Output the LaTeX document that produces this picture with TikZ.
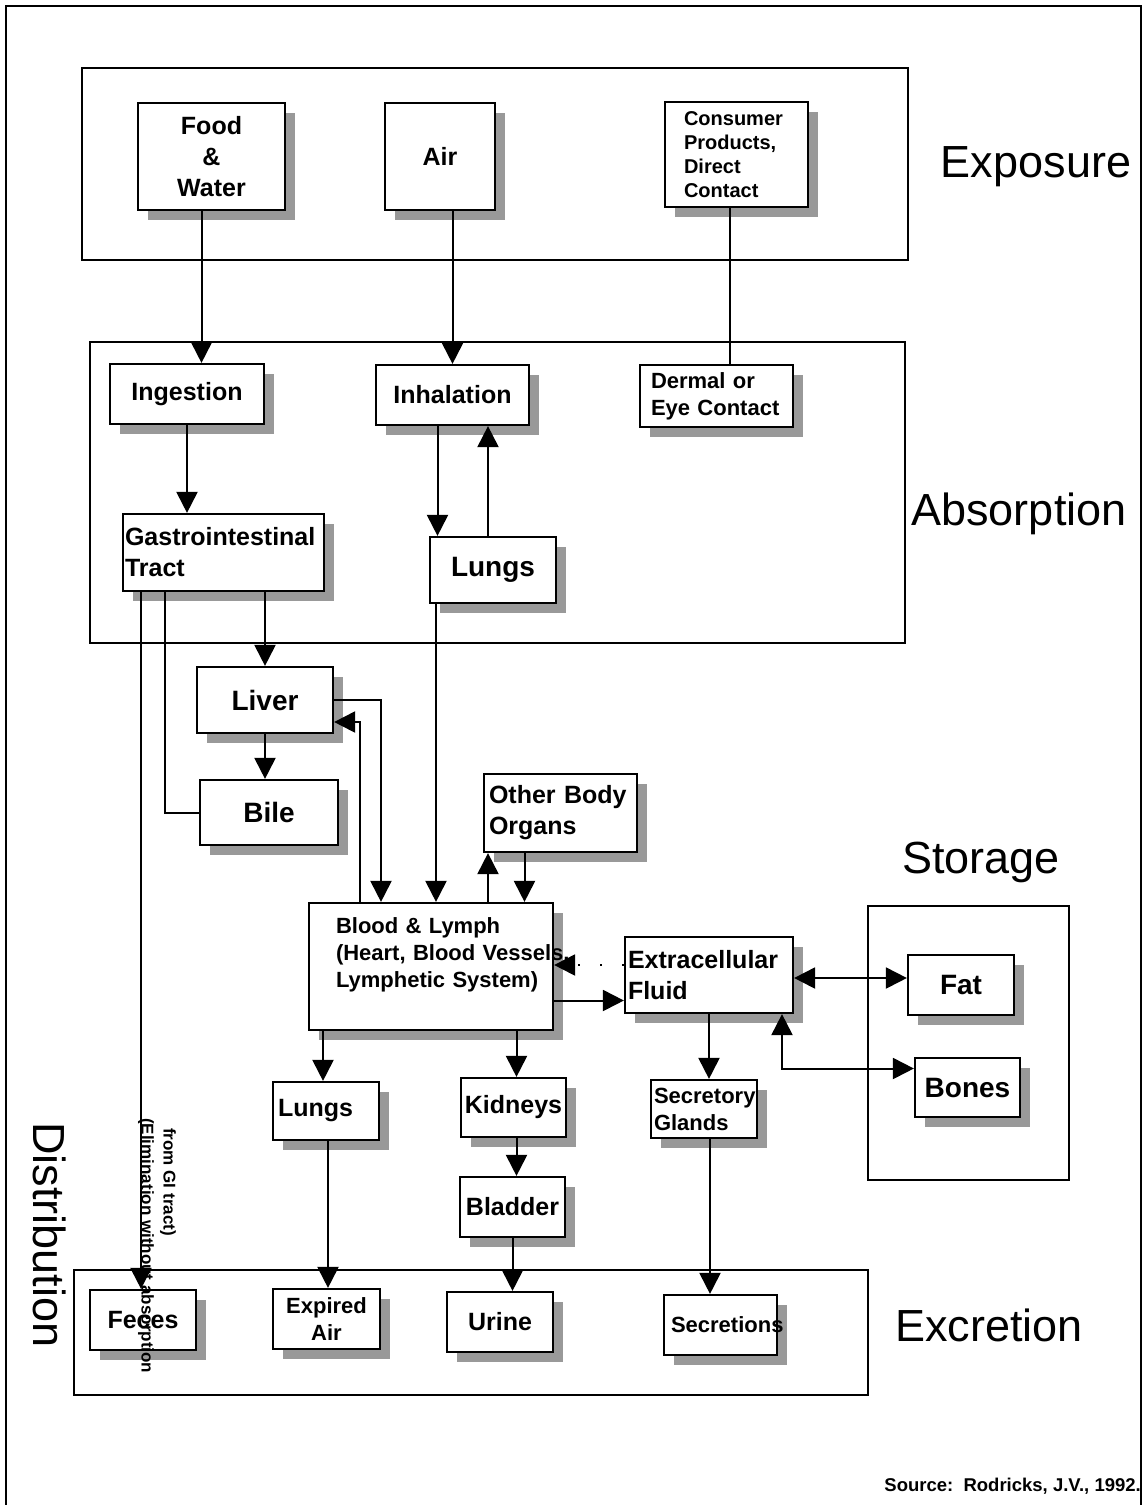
\documentclass[tikz,border=0pt]{standalone}
\usepackage{fontspec}
\setmainfont{Liberation Sans}
\usepackage{tikz}
\usetikzlibrary{arrows.meta,shadows}
\newcommand{\ovr}[1]{\leavevmode\rlap{#1}}
\tikzset{
  box/.style  ={draw, line width=2.2pt, fill=white, inner sep=0pt, align=center,
                general shadow={fill=black!40, shadow xshift=10pt, shadow yshift=-10pt}},
  frm/.style  ={draw, line width=2.2pt},
  con/.style  ={line width=2pt},
  arr/.style  ={-{Triangle[length=21pt, width=21pt]}, line width=2pt},
  dbl/.style  ={{Triangle[length=21pt, width=21pt]}-{Triangle[length=21pt, width=21pt]},
                line width=2pt},
  txtA/.style ={font=\bfseries\fontsize{25}{31}\selectfont},
  txtB/.style ={font=\bfseries\fontsize{22}{27}\selectfont},
  txtS/.style ={font=\bfseries\fontsize{20}{24}\selectfont},
  txtL/.style ={font=\bfseries\fontsize{28}{33}\selectfont},
  ttl/.style  ={inner sep=0pt, font=\fontsize{45}{54}\selectfont},
  note/.style ={inner sep=0pt, font=\bfseries\fontsize{17}{20}\selectfont},
  src/.style  ={inner sep=0pt, font=\bfseries\fontsize{18.5}{22}\selectfont},
}

\begin{document}
\begin{tikzpicture}[x=1pt, y=-1pt]
  \useasboundingbox (0,0) rectangle (1144,1505);
  % page frame and stage frames
  \draw[frm] (6,1505) -- (6,6) -- (1141,6) -- (1141,1505);
  \draw[frm] (82,68) rectangle (908,260);
  \draw[frm] (90,342) rectangle (905,643);
  \draw[frm] (868,906) rectangle (1069,1180);
  \draw[frm] (74,1270) rectangle (868,1395);

  % stage titles
  \node[ttl] (exposure) at (1036,167) {Exposure};
  \node[ttl] (absorption) at (1019,514) {Absorption};
  \node[ttl] (storage) at (981,862) {Storage};
  \node[ttl] (excretion) at (989,1325) {Excretion};
  \node[ttl, rotate=-90] (distribution) at (50,1235) {Distribution};
  \node[src, anchor=east] (source) at (1141,1486) {Source:\ \ Rodricks, J.V., 1992.};

  % exposure
  \node[box, minimum width=147pt, minimum height=107pt, txtA] (food) at (211.5,156.5)
    {Food\\\&\\Water};
  \node[box, minimum width=110pt, minimum height=107pt, txtA] (air) at (440,156.5) {Air};
  \node[box, minimum width=143pt, minimum height=105pt, txtS, align=left,
        inner xsep=19pt, text width=105pt] (consumer) at (736.5,154.5)
    {Consumer\\Products,\\Direct\\Contact};

  % absorption
  \node[box, minimum width=154pt, minimum height=60pt, txtA] (ingest) at (187,394) {Ingestion};
  \node[box, minimum width=153pt, minimum height=60pt, txtA] (inhal) at (452.5,395) {Inhalation};
  \node[box, minimum width=153pt, minimum height=62pt, txtB, align=left,
        inner xsep=11pt, text width=131pt] (dermal) at (716.5,396) {Dermal or\\Eye Contact};
  \node[box, minimum width=201pt, minimum height=77pt, txtA, align=left,
        inner xsep=2pt, text width=197pt] (gi) at (223.5,552.5) {Gastrointestinal\\Tract};
  \node[box, minimum width=126pt, minimum height=66pt, txtL] (lungsA) at (493,570) {Lungs};

  % distribution
  \node[box, minimum width=136pt, minimum height=66pt, txtL] (liver) at (265,700) {Liver};
  \node[box, minimum width=138pt, minimum height=65pt, txtL] (bile) at (269,812.5) {Bile};
  \node[box, minimum width=153pt, minimum height=78pt, txtA, align=left,
        inner xsep=5pt, text width=143pt] (other) at (560.5,813) {Other Body\\Organs};
  \node[box, minimum width=244pt, minimum height=127pt, txtB, align=left,
        inner xsep=27pt, text width=190pt] (blood) at (431,966.5)
    {Blood \& Lymph\\\ovr{(Heart, Blood Vessels,}\\\ovr{Lymphetic System)}\\\mbox{}};
  \node[box, minimum width=168pt, minimum height=76pt, txtA, align=left,
        inner xsep=3pt, text width=162pt] (extra) at (709,975) {Extracellular\\Fluid};
  \node[box, minimum width=106pt, minimum height=60pt, txtL] (fat) at (961,985) {Fat};
  \node[box, minimum width=105pt, minimum height=59pt, txtL] (bones) at (967.5,1087.5) {Bones};
  \node[box, minimum width=106pt, minimum height=58pt, txtA, align=left,
        inner xsep=5pt, text width=96pt] (lungsB) at (326,1111) {Lungs};
  \node[box, minimum width=105pt, minimum height=59pt, txtA] (kidneys) at (513.5,1107.5) {Kidneys};
  \node[box, minimum width=106pt, minimum height=58pt, txtB, align=left,
        inner xsep=3pt, text width=100pt] (secret) at (704,1109) {\ovr{Secretory}\\Glands};
  \node[box, minimum width=105pt, minimum height=60pt, txtA] (bladder) at (512.5,1207) {Bladder};

  % excretion
  \node[box, minimum width=106pt, minimum height=60pt, txtA] (feces) at (143,1320) {Feces};
  \node[box, minimum width=107pt, minimum height=60pt, txtB] (expired) at (326.5,1319) {Expired\\Air};
  \node[box, minimum width=106pt, minimum height=60pt, txtA] (urine) at (500,1322) {Urine};
  \node[box, minimum width=113pt, minimum height=60pt, txtB, align=left,
        inner xsep=7pt, text width=99pt] (secretions) at (720.5,1325) {\ovr{Secretions}};

  % routes
  \draw[arr] ([xshift=-10pt]food.south) -- ([xshift=-10pt]food.south |- ingest.north);
  \draw[arr] (inhal.north |- air.south) -- (inhal.north);
  \draw[con] ([xshift=13pt]dermal.north |- consumer.south) -- ([xshift=13pt]dermal.north);
  \draw[arr] (ingest.south) -- (ingest.south |- gi.north);
  \draw[arr] ([xshift=-15pt]inhal.south) -- ([xshift=-15pt]inhal.south |- lungsA.north);
  \draw[arr] ([xshift=-5pt]lungsA.north) -- ([xshift=-5pt]lungsA.north |- inhal.south);
  \draw[arr] (liver.north |- gi.south) -- (liver.north);
  \draw[con] ([xshift=-59pt]gi.south) |- (bile.west);
  \draw[arr] ([xshift=-2pt]feces.north |- gi.south) -- ([xshift=-2pt]feces.north);
  \draw[arr] ([xshift=5pt]blood.north |- lungsA.south) -- ([xshift=5pt]blood.north);
  \draw[arr] (liver.east) -| ([xshift=-50pt]blood.north);
  \draw[arr] ([xshift=-71pt]blood.north) |- ([yshift=-22pt]liver.east);
  \draw[arr] (liver.south) -- (liver.south |- bile.north);
  \draw[arr] ([xshift=57pt]blood.north) -- ([xshift=57pt]blood.north |- other.south);
  \draw[arr] ([xshift=-36pt]other.south) -- ([xshift=-36pt]other.south |- blood.north);
  \draw[arr] ([yshift=-34pt]blood.east) -- ([yshift=-34pt]blood.east -| extra.west);
  \draw[arr, dash pattern=on 2pt off 20pt] ([yshift=10pt]extra.west)
    -- ([yshift=10pt]extra.west -| blood.east);
  \draw[dbl] ([yshift=7pt]fat.west -| extra.east) -- ([yshift=7pt]fat.west);
  \draw[dbl] ([xshift=73pt]extra.south) |- ([yshift=19pt]bones.west);
  \draw[arr] ([xshift=-3pt]lungsB.north |- blood.south) -- ([xshift=-3pt]lungsB.north);
  \draw[arr] ([xshift=3pt]kidneys.north |- blood.south) -- ([xshift=3pt]kidneys.north);
  \draw[arr] (extra.south) -- (extra.south |- secret.north);
  \draw[arr] ([xshift=3pt]kidneys.south) -- ([xshift=3pt]kidneys.south |- bladder.north);
  \draw[arr] ([xshift=2pt]lungsB.south) -- ([xshift=2pt]lungsB.south |- expired.north);
  \draw[arr] (bladder.south) -- (bladder.south |- urine.north);
  \draw[arr] ([xshift=6pt]secret.south) -- ([xshift=6pt]secret.south |- secretions.north);

  % note on the feces route
  \node[note, rotate=-90, anchor=west] (elim) at (146,1118) {(Elimination without absorption};
  \node[note, rotate=-90, anchor=west] (fromgi) at (168,1128) {from GI tract)};
\end{tikzpicture}
\end{document}
